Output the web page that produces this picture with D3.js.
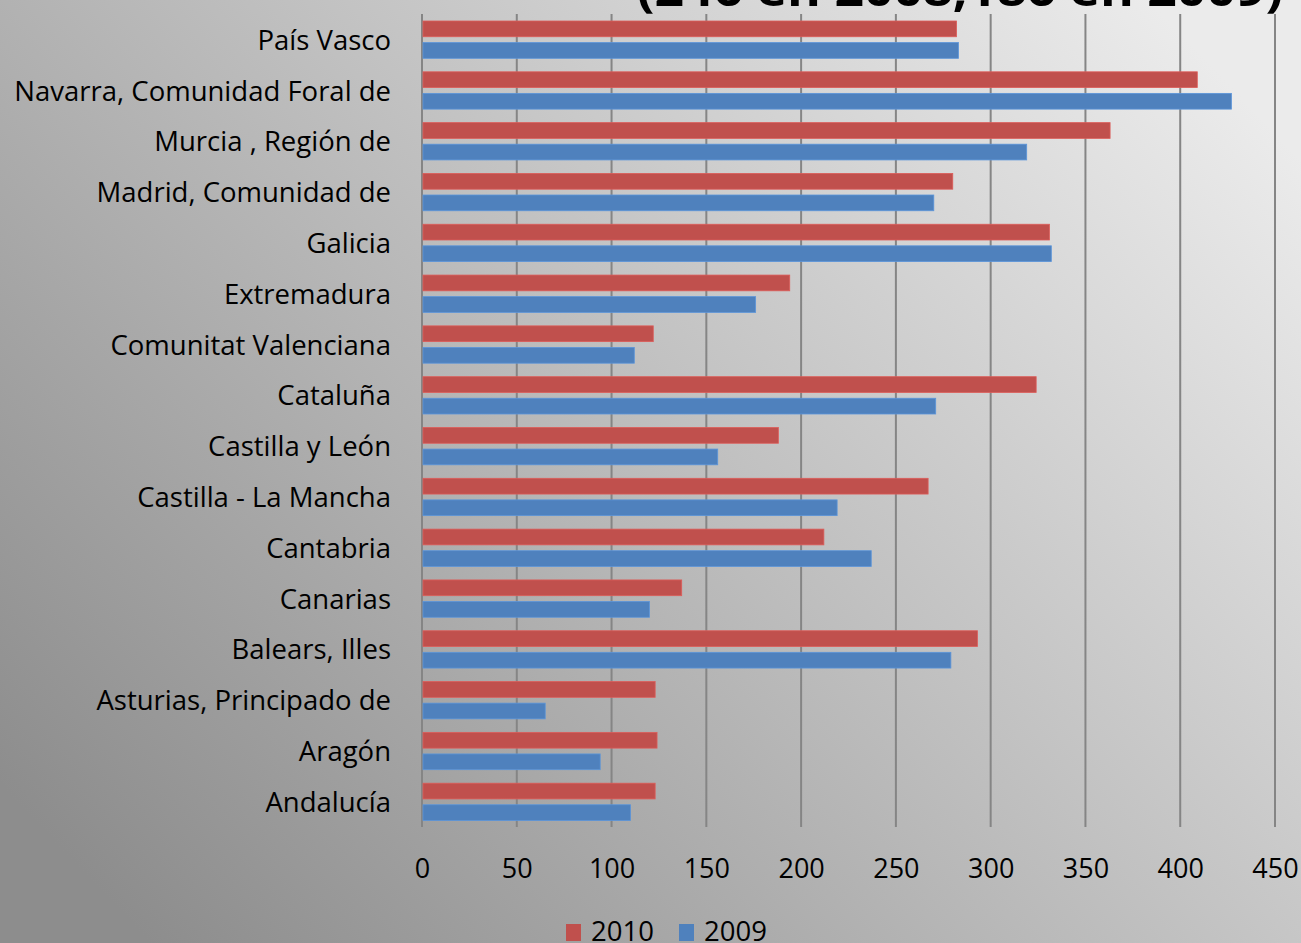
<!DOCTYPE html>
<html>
<head>
<meta charset="utf-8">
<script src="https://cdn.jsdelivr.net/npm/d3@7"></script>
<style>
  html, body { margin: 0; padding: 0; overflow: hidden; }
  svg { display: block; }
  text { font-family: "Open Sans", Lato, sans-serif; fill: #000; }
</style>
</head>
<body>
<svg id="chart" width="1301" height="943"></svg>
<script>
// ---- data ----
const categories = [
  "País Vasco",
  "Navarra, Comunidad Foral de",
  "Murcia , Región de",
  "Madrid, Comunidad de",
  "Galicia",
  "Extremadura",
  "Comunitat Valenciana",
  "Cataluña",
  "Castilla y León",
  "Castilla - La Mancha",
  "Cantabria",
  "Canarias",
  "Balears, Illes",
  "Asturias, Principado de",
  "Aragón",
  "Andalucía"
];
const values2010 = [282, 409, 363, 280, 331, 194, 122, 324, 188, 267, 212, 137, 293, 123, 124, 123];
const values2009 = [283, 427, 319, 270, 332, 176, 112, 271, 156, 219, 237, 120, 279, 65, 94, 110];
const seriesNames = ["2010", "2009"];
const seriesColors = ["#C0504D", "#4F81BD"];
const xTicks = [0, 50, 100, 150, 200, 250, 300, 350, 400, 450];
const titleText = "(246 en 2008,186 en 2009)";

// ---- layout ----
const W = 1301, H = 943;
const plot = { left: 422, right: 1275, top: 14, bottom: 827 };

const svg = d3.select("#chart");

// background gradient
const defs = svg.append("defs");
const grad = defs.append("linearGradient")
  .attr("id", "bg")
  .attr("gradientUnits", "userSpaceOnUse")
  .attr("x1", 1150).attr("y1", 0)
  .attr("x2", 150).attr("y2", 943);
grad.append("stop").attr("offset", 0).attr("stop-color", "#ebebeb");
grad.append("stop").attr("offset", 0.5).attr("stop-color", "#bcbcbc");
grad.append("stop").attr("offset", 1).attr("stop-color", "#8d8d8d");
svg.append("rect").attr("width", W).attr("height", H).attr("fill", "url(#bg)");

// scales
const x = d3.scaleLinear().domain([0, 450]).range([plot.left, plot.right]);
const y = d3.scaleBand().domain(categories).range([plot.top, plot.bottom]).paddingInner(0).paddingOuter(0);
const inner = d3.scaleBand().domain(seriesNames).range([7, y.bandwidth() - 6.5]).paddingInner(0.27);

// gridlines
svg.append("g")
  .selectAll("line")
  .data(xTicks)
  .join("line")
  .attr("x1", d => x(d)).attr("x2", d => x(d))
  .attr("y1", plot.top).attr("y2", plot.bottom)
  .attr("stroke", "#858585")
  .attr("stroke-width", 2);

// bars
const series = [values2010, values2009];
const groups = svg.append("g")
  .selectAll("g")
  .data(categories)
  .join("g")
  .attr("transform", d => `translate(0,${y(d)})`);

groups.selectAll("rect")
  .data((d, i) => seriesNames.map((s, k) => ({ s, v: series[k][i], c: seriesColors[k] })))
  .join("rect")
  .attr("x", x(0) + 1)
  .attr("y", d => inner(d.s))
  .attr("width", d => x(d.v) - x(0) - 1)
  .attr("height", inner.bandwidth())
  .attr("fill", d => d.c)
  .attr("stroke", d => d3.color(d.c).brighter(0.4))
  .attr("stroke-width", 0.8);

// y axis labels
const yAxis = d3.axisLeft(y).tickSize(0).tickPadding(31);
const gy = svg.append("g").attr("transform", `translate(${plot.left},1.5)`).call(yAxis);
gy.select(".domain").remove();
gy.selectAll("text").style("font-size", "27.5px").style("font-family", "'Open Sans', sans-serif").attr("fill", "#000");

// x axis labels
const xAxis = d3.axisBottom(x).tickValues(xTicks).tickSize(0).tickPadding(0).tickFormat(d3.format("d"));
const gx = svg.append("g").attr("transform", `translate(0,${plot.bottom + 32})`).call(xAxis);
gx.select(".domain").remove();
gx.selectAll("text").style("font-size", "27px").style("font-family", "'Open Sans', sans-serif").attr("fill", "#000");

// legend
const legend = svg.append("g").attr("transform", "translate(566,924)");
const legItems = legend.selectAll("g")
  .data(seriesNames)
  .join("g")
  .attr("transform", (d, i) => `translate(${i * 113},0)`);
legItems.append("rect")
  .attr("width", 15).attr("height", 17)
  .attr("fill", (d, i) => seriesColors[i]);
legItems.append("text")
  .attr("x", 25).attr("y", 17)
  .style("font-size", "27.5px")
  .text(d => d);

// cropped title
svg.append("text")
  .attr("x", 1283).attr("y", 6)
  .attr("text-anchor", "end")
  .style("font-size", "46px")
  .style("font-weight", "bold")
  .attr("textLength", 646)
  .attr("lengthAdjust", "spacingAndGlyphs")
  .text(titleText);
</script>
</body>
</html>
